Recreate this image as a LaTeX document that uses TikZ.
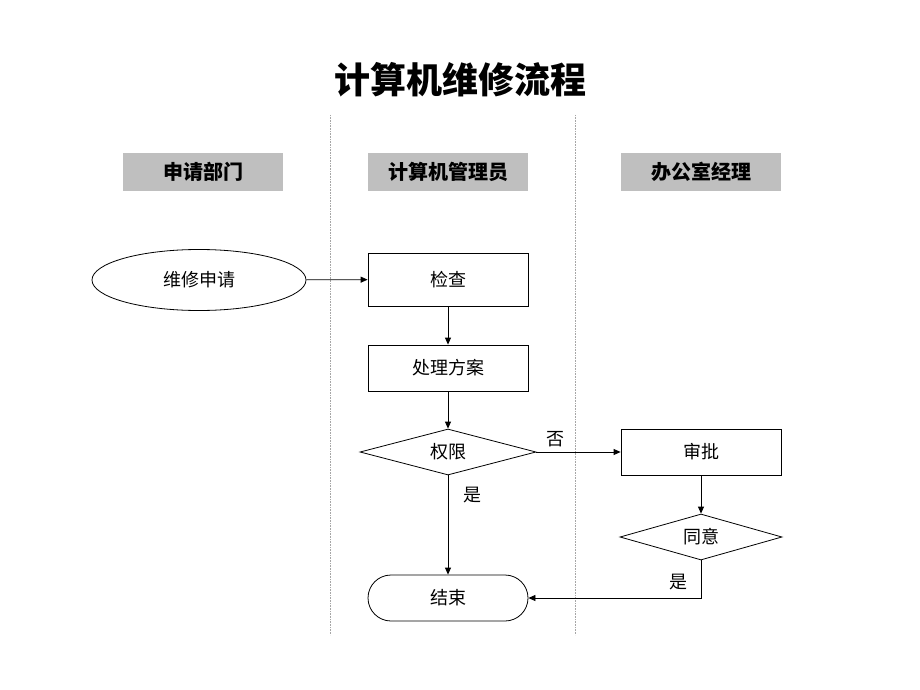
\documentclass[tikz,border=0pt]{standalone}
\usepackage{fontspec}
\newfontfamily\cjk{Noto Sans CJK SC}
\usetikzlibrary{shapes.geometric,arrows.meta}
\begin{document}
\begin{tikzpicture}[x=1pt,y=-1pt,
  every node/.style={font=\cjk\fontsize{18}{20}\selectfont},
  boxn/.style={draw, line width=0.8pt, minimum width=160pt, minimum height=53pt, inner sep=0pt},
  hdr/.style={fill=black!25, minimum width=160pt, minimum height=38pt, inner sep=0pt, font=\cjk\bfseries\fontsize{20}{22}\selectfont},
  dia/.style={draw, diamond, aspect=3.8, line width=0.8pt, inner sep=0pt, minimum width=176pt, minimum height=46pt},
  conn/.style={line width=0.8pt, -{Triangle[length=7pt,width=6pt]}},
  lane/.style={densely dotted, black!35, line width=0.6pt}
]
\useasboundingbox (0,0) rectangle (920,690);
\node[font=\cjk\bfseries\fontsize{36}{38}\selectfont] (title) at (460,80) {计算机维修流程};
\coordinate (l1t) at (330,115); \coordinate (l1b) at (330,635);
\coordinate (l2t) at (575,115); \coordinate (l2b) at (575,635);
\draw[lane] (l1t) -- (l1b);
\draw[lane] (l2t) -- (l2b);
\node[hdr] (h1) at (203,172) {申请部门};
\node[hdr] (h2) at (448,172) {计算机管理员};
\node[hdr] (h3) at (701,172) {办公室经理};
\node[draw, ellipse, line width=0.8pt, minimum width=214pt, minimum height=61pt, inner sep=0pt] (req) at (199,280) {维修申请};
\node[boxn] (chk) at (448,279.5) {检查};
\node[boxn, minimum height=46pt] (plan) at (448,368) {处理方案};
\node[dia] (auth) at (448,452) {权限};
\node[boxn, minimum height=46pt] (appr) at (701,452) {审批};
\node[dia, minimum width=162pt] (agree) at (701,537) {同意};
\node[draw, line width=0.8pt, rounded corners=23pt, minimum width=160pt, minimum height=46pt, inner sep=0pt] (end) at (448,598) {结束};
\draw[conn] (req) -- (chk);
\draw[conn] (chk) -- (plan);
\draw[conn] (plan) -- (auth);
\draw[conn] (auth) -- node[pos=0.23, above=1pt] (no) {否} (appr);
\draw[conn] (auth) -- node[pos=0.2, right=12pt] (yes1) {是} (end);
\draw[conn] (appr) -- (agree);
\draw[conn] (agree) |- node[pos=0.29, left=10pt] (yes2) {是} (end);
\end{tikzpicture}
\end{document}
